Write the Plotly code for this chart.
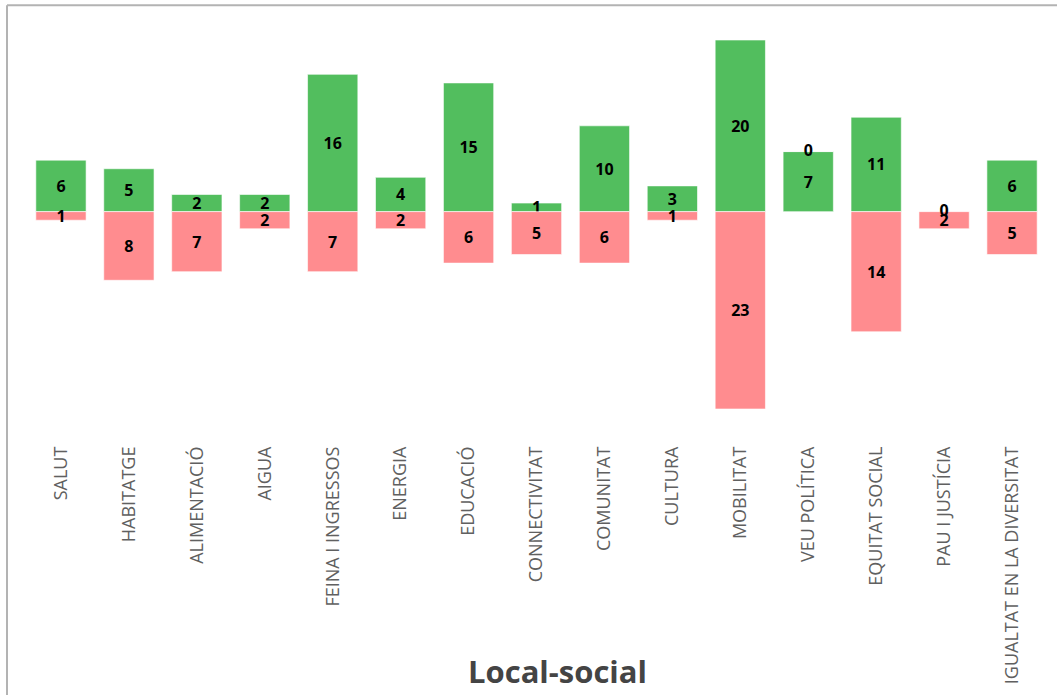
import plotly.graph_objects as go

categories = ["SALUT", "HABITATGE", "ALIMENTACIÓ", "AIGUA", "FEINA I INGRESSOS", "ENERGIA",
              "EDUCACIÓ", "CONNECTIVITAT", "COMUNITAT", "CULTURA", "MOBILITAT",
              "VEU POLÍTICA", "EQUITAT SOCIAL", "PAU I JUSTÍCIA", "IGUALTAT EN LA DIVERSITAT"]
positive = [6, 5, 2, 2, 16, 4, 15, 1, 10, 3, 20, 7, 11, 0, 6]
negative = [1, 8, 7, 2, 7, 2, 6, 5, 6, 1, 23, 0, 14, 2, 5]
chart_title = "Local-social"

GREEN = "#52BE5E"
RED = "#FF8C8F"

W, H = 1057, 695
ML, MR, MT, MB = 27, 11, 40, 284
PW, PH = W - ML - MR, H - MT - MB

LABEL_FONT = dict(family="Open Sans", size=16, color="black", weight="bold")

fig = go.Figure()
fig.add_trace(go.Bar(
    x=categories, y=positive, marker=dict(color=GREEN, line=dict(color="rgba(255,255,255,0.6)", width=1)),
    text=[str(v) if v != 0 else "" for v in positive], textposition="inside",
    insidetextanchor="middle", textangle=0, textfont=LABEL_FONT,
    name="Positiu", showlegend=False))
fig.add_trace(go.Bar(
    x=categories, y=[-v for v in negative], marker=dict(color=RED, line=dict(color="rgba(255,255,255,0.6)", width=1)),
    text=[str(v) if v != 0 else "" for v in negative], textposition="inside",
    insidetextanchor="middle", textangle=0, textfont=LABEL_FONT,
    name="Negatiu", showlegend=False))

# zero-value labels (placed where the zero-height segment sits in the stack)
zx, zy, zt = [], [], []
for c, p, n in zip(categories, positive, negative):
    if p == 0:
        zx.append(c); zy.append(0); zt.append("0")
    if n == 0:
        zx.append(c); zy.append(p); zt.append("0")
fig.add_trace(go.Scatter(x=zx, y=zy, text=zt, mode="text", textposition="middle center",
                         textfont=LABEL_FONT, showlegend=False, hoverinfo="skip"))

fig.update_layout(
    width=W, height=H,
    margin=dict(l=ML, r=MR, t=MT, b=MB),
    barmode="relative", bargap=0.26,
    paper_bgcolor="white", plot_bgcolor="white",
    uniformtext=dict(minsize=16, mode="show"),
    xaxis=dict(tickangle=-90, showgrid=False, showline=False, zeroline=False,
               tickfont=dict(family="Open Sans", size=18, color="#606060", weight=400),
               ticklabelstandoff=33),
    yaxis=dict(range=[-23, 20], visible=False, showgrid=False, zeroline=False),
    shapes=[
        dict(type="line", xref="paper", yref="paper",
             x0=(7 - ML) / PW, x1=1.2, y0=1 + (MT - 5) / PH, y1=1 + (MT - 5) / PH,
             line=dict(color="#b3b3b3", width=2)),
        dict(type="line", xref="paper", yref="paper",
             x0=(7 - ML) / PW, x1=(7 - ML) / PW, y0=1 + (MT - 5) / PH, y1=-1.2,
             line=dict(color="#b3b3b3", width=2)),
    ],
    annotations=[dict(text=chart_title, xref="paper", yref="paper",
                      x=(557 - ML) / PW, y=(MT + PH - 674) / PH, xanchor="center", yanchor="middle",
                      showarrow=False,
                      font=dict(family="Open Sans", size=31, color="#444444", weight="bold"))],
)

fig.write_html("out.html", config={"displayModeBar": False},
               post_script="document.body.style.margin='0';document.body.style.overflow='hidden';")
